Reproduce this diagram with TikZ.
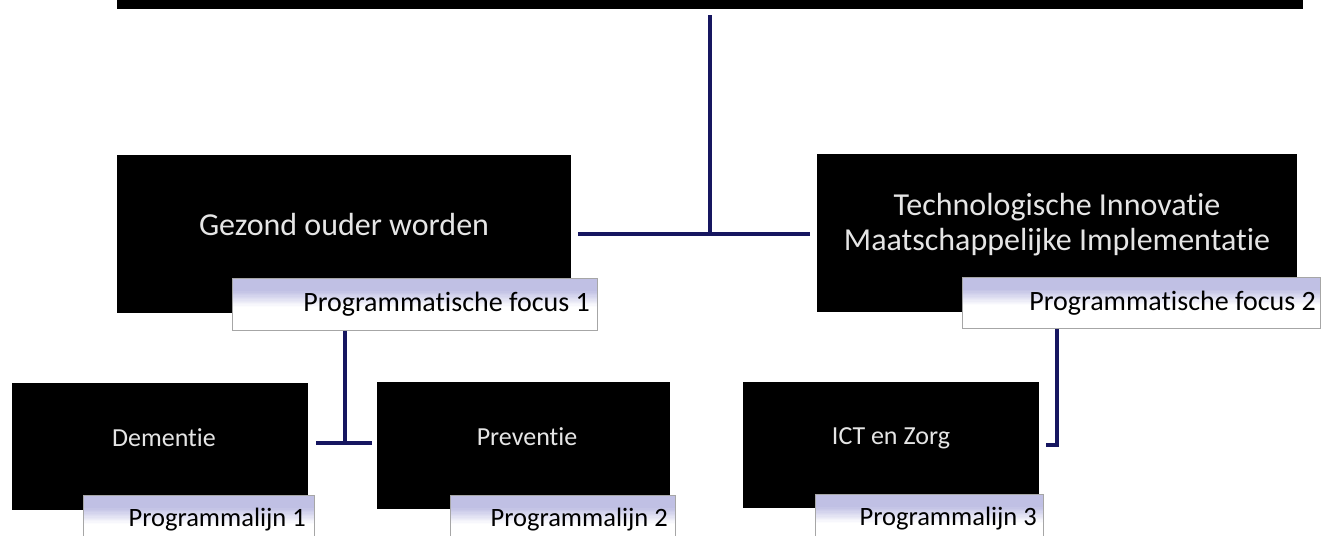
\documentclass[tikz,border=0pt]{standalone}
\usepackage{fontspec}
\usetikzlibrary{calc}
\setmainfont[Ligatures=NoCommon]{Carlito}
\definecolor{lav}{RGB}{192,192,228}
\definecolor{navy}{RGB}{22,22,96}
\begin{document}
\begin{tikzpicture}[x=1pt,y=-1pt,
  blk/.style={fill=black, draw=none, anchor=north west, inner sep=0pt},
  wtxt/.style={text=white!90!black, align=center, inner sep=0pt},
  lab/.style={draw=gray!70, line width=0.9pt, fill=white, anchor=north west, inner sep=0pt,
    path picture={\foreach \i in {0,...,23}{
      \pgfmathsetmacro\fa{\i*0.025}\pgfmathsetmacro\fb{\fa+0.027}
      \pgfmathtruncatemacro\pp{\i<10 ? 100 : max(0,100-(\i-9)*8)}
      \fill[lav!\pp!white]
        ($(path picture bounding box.north west)!\fa!(path picture bounding box.south west)$) rectangle
        ($(path picture bounding box.north east)!\fb!(path picture bounding box.south east)$);}}},
  ltxt/.style={anchor=east, text=black, inner sep=0pt},
  conn/.style={draw=navy, line width=4pt}]
\useasboundingbox (0,0) rectangle (1324,535);
\clip (0,0) rectangle (1324,535);
% top bar
\node[blk, minimum width=1186pt, minimum height=9pt] (top) at (117,0) {};
% focus boxes
\node[blk, minimum width=454pt, minimum height=158pt] (gez) at (117,155) {};
\node[wtxt, font=\fontsize{32}{35}\selectfont] (gezt) at (344,225) {Gezond ouder worden};
\node[blk, minimum width=480pt, minimum height=158pt] (tech) at (817,154) {};
\node[wtxt, font=\fontsize{32}{35}\selectfont] (techt) at (1057,225) {Technologische Innovatie\\Maatschappelijke Implementatie};
\node[lab, minimum width=365pt, minimum height=52pt] (f1) at (232,278) {};
\node[ltxt, font=\fontsize{28}{32}\selectfont] (f1t) at (590,304) {Programmatische focus 1};
\node[lab, minimum width=358pt, minimum height=51pt] (f2) at (962,277) {};
\node[ltxt, font=\fontsize{28}{32}\selectfont] (f2t) at (1316,303) {Programmatische focus 2};
% bottom boxes
\node[blk, minimum width=296pt, minimum height=127pt] (dem) at (12,383) {};
\node[wtxt, font=\fontsize{26}{30}\selectfont] (demt) at (164,438) {Dementie};
\node[blk, minimum width=293pt, minimum height=127pt] (prev) at (377,382) {};
\node[wtxt, font=\fontsize{26}{30}\selectfont] (prevt) at (527,437) {Preventie};
\node[blk, minimum width=296pt, minimum height=126pt] (ict) at (743,382) {};
\node[wtxt, font=\fontsize{26}{30}\selectfont] (ictt) at (891,438) {ICT en Zorg};
\node[lab, minimum width=231pt, minimum height=52pt] (l1) at (83,495) {};
\node[ltxt, font=\fontsize{26.5}{30}\selectfont] (l1t) at (306,520) {Programmalijn 1};
\node[lab, minimum width=225pt, minimum height=52pt] (l2) at (450,495) {};
\node[ltxt, font=\fontsize{26.5}{30}\selectfont] (l2t) at (668,520) {Programmalijn 2};
\node[lab, minimum width=228pt, minimum height=52pt] (l3) at (815,494) {};
\node[ltxt, font=\fontsize{26.5}{30}\selectfont] (l3t) at (1037,519) {Programmalijn 3};
% connectors
\coordinate (J) at (710,234);
\coordinate (J2) at (345,443);
\coordinate (J3) at (1057,445);
\draw[conn, shorten <=6pt] (J |- top.south) -- (J);
\draw[conn, shorten <=7pt, shorten >=7pt] (gez.east |- J) -- (tech.west |- J);
\draw[conn] (J2 |- f1.south) -- (J2);
\draw[conn, shorten <=8pt, shorten >=5pt] (dem.east |- J2) -- (prev.west |- J2);
\draw[conn, shorten >=7pt] (J3 |- f2.south) -- (J3) -- (ict.east |- J3);
\end{tikzpicture}
\end{document}
